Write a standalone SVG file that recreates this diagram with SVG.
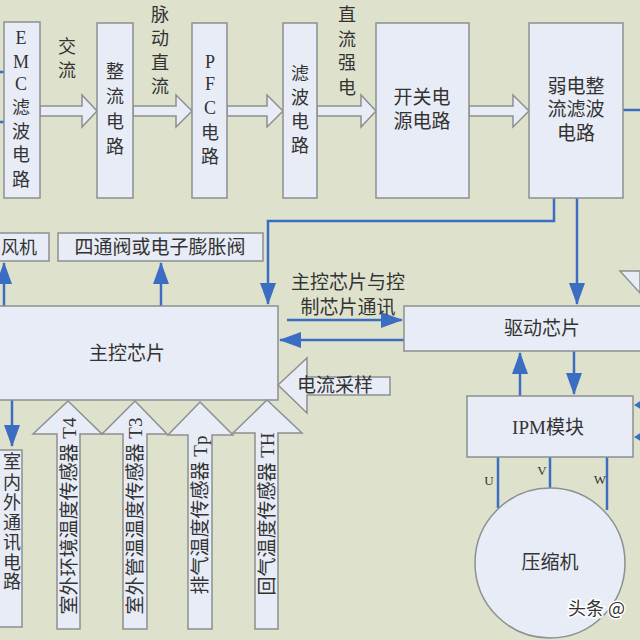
<svg xmlns="http://www.w3.org/2000/svg" width="640" height="640" viewBox="0 0 640 640">
<style>
.bx{fill:#e8ecf6;stroke:#8c9090;stroke-width:1.5}
.ba{fill:#e8ecf6;stroke:#8c9090;stroke-width:1.5}
.t{font-family:"Liberation Serif","Noto Sans CJK SC",serif;font-size:18px;fill:#333}
.c{text-anchor:middle}
.ln{fill:none;stroke:#3b6dc2;stroke-width:2.5}
.lbl{font-family:"Liberation Serif","Noto Sans CJK SC",serif;font-size:13px;fill:#333;text-anchor:middle}
</style>
<defs>
<marker id="ah" markerUnits="userSpaceOnUse" markerWidth="22" markerHeight="16" refX="21" refY="8" orient="auto">
<path d="M0,0 L22,8 L0,16 z" fill="#3b6dc2"/>
</marker>
</defs>
<rect x="0" y="0" width="640" height="640" fill="#dee2cd"/>

<g id="connectors">
<path class="ln" d="M554,198 V221 H268 V304" marker-end="url(#ah)"/>
<path class="ln" d="M577,198 V304" marker-end="url(#ah)"/>
<path class="ln" d="M4,306 V263" marker-end="url(#ah)"/>
<path class="ln" d="M161,306 V263" marker-end="url(#ah)"/>
<path class="ln" d="M287,320 H402" marker-end="url(#ah)"/>
<path class="ln" d="M404,340 H280" marker-end="url(#ah)"/>
<path class="ln" d="M520,396 V353" marker-end="url(#ah)"/>
<path class="ln" d="M574,351 V394" marker-end="url(#ah)"/>
<path class="ln" d="M12,400 V446" marker-end="url(#ah)"/>
<path class="ln" d="M498,457 V508"/>
<path class="ln" d="M550,457 V488"/>
<path class="ln" d="M607,457 V510"/>
<path class="ln" d="M623,110 H640"/>
<path class="ln" d="M0,72 H4 M0,122 H4"/>
<polygon points="634,405 642,400 642,410" fill="#3b6dc2"/>
<polygon points="634,437 642,432 642,442" fill="#3b6dc2"/>
</g>

<g id="flow-arrows">
<polygon class="ba" points="40,106 82,106 82,95 97,111 82,127 82,116 40,116"/>
<polygon class="ba" points="133,106 176,106 176,95 192,111 176,127 176,116 133,116"/>
<polygon class="ba" points="227,106 267,106 267,95 283,111 267,127 267,116 227,116"/>
<polygon class="ba" points="317,106 361,106 361,95 376,111 361,127 361,116 317,116"/>
<polygon class="ba" points="469,106 513,106 513,95 529,111 513,127 513,116 469,116"/>
<polygon class="ba" points="620,271 640,271 640,293"/>
</g>

<g id="flow-labels">
<text class="t c"><tspan x="67" y="53">交</tspan><tspan x="67" y="77">流</tspan></text>
<text class="t c"><tspan x="160" y="21">脉</tspan><tspan x="160" y="45">动</tspan><tspan x="160" y="69">直</tspan><tspan x="160" y="93">流</tspan></text>
<text class="t c"><tspan x="347" y="21">直</tspan><tspan x="347" y="46">流</tspan><tspan x="347" y="69">强</tspan><tspan x="347" y="94">电</tspan></text>
</g>

<g id="emc">
<rect class="bx" x="4" y="22" width="36" height="176"/>
<text class="t c"><tspan x="21" y="44">E</tspan><tspan x="21" y="68">M</tspan><tspan x="21" y="90">C</tspan><tspan x="21" y="114">滤</tspan><tspan x="21" y="138">波</tspan><tspan x="21" y="161">电</tspan><tspan x="21" y="186">路</tspan></text>
</g>
<g id="rectifier">
<rect class="bx" x="97" y="23" width="36" height="175"/>
<text class="t c"><tspan x="115" y="78">整</tspan><tspan x="115" y="103">流</tspan><tspan x="115" y="128">电</tspan><tspan x="115" y="153">路</tspan></text>
</g>
<g id="pfc">
<rect class="bx" x="192" y="23" width="35" height="175"/>
<text class="t c"><tspan x="210" y="68">P</tspan><tspan x="210" y="90">F</tspan><tspan x="210" y="114">C</tspan><tspan x="210" y="139">电</tspan><tspan x="210" y="163">路</tspan></text>
</g>
<g id="filter">
<rect class="bx" x="283" y="23" width="34" height="175"/>
<text class="t c"><tspan x="300" y="80">滤</tspan><tspan x="300" y="104">波</tspan><tspan x="300" y="128">电</tspan><tspan x="300" y="152">路</tspan></text>
</g>
<g id="smps">
<rect class="bx" x="376" y="23" width="93" height="175"/>
<text class="t c" style="font-size:19px"><tspan x="422" y="104">开关电</tspan><tspan x="422" y="128">源电路</tspan></text>
</g>
<g id="weak-rect">
<rect class="bx" x="529" y="23" width="94" height="175"/>
<text class="t c" style="font-size:19px"><tspan x="576" y="93">弱电整</tspan><tspan x="576" y="116">流滤波</tspan><tspan x="576" y="140">电路</tspan></text>
</g>

<g id="fan">
<rect class="bx" x="-2" y="233" width="51" height="28"/>
<text class="t" x="1" y="254">风机</text>
</g>
<g id="valve">
<rect class="bx" x="58" y="233" width="205" height="28"/>
<text class="t c" x="160" y="254" style="font-size:19px">四通阀或电子膨胀阀</text>
</g>

<g id="main-chip">
<rect class="bx" x="-2" y="306" width="280" height="94"/>
<text class="t c" x="127" y="360" style="font-size:19px">主控芯片</text>
</g>

<g id="comm-label">
<text class="t c" style="font-size:19px"><tspan x="348" y="289">主控芯片与控</tspan><tspan x="348" y="314">制芯片通讯</tspan></text>
</g>

<g id="driver-chip">
<rect class="bx" x="404" y="306" width="240" height="45"/>
<text class="t c" x="542" y="335" style="font-size:19px">驱动芯片</text>
</g>

<g id="current-sample">
<polygon class="ba" points="278,385 307,358 307,377 390,377 390,395 307,395 307,413"/>
<text class="t" x="297" y="392" style="font-size:19px">电流采样</text>
</g>

<g id="ipm">
<rect class="bx" x="467" y="396" width="166" height="61"/>
<text class="t c" x="548" y="434" style="font-size:19px">IPM模块</text>
</g>

<g id="uvw-labels">
<text class="lbl" x="489" y="485">U</text>
<text class="lbl" x="542" y="475">V</text>
<text class="lbl" x="600" y="484">W</text>
</g>

<g id="compressor">
<circle class="bx" cx="550" cy="563" r="75"/>
<text class="t c" x="550" y="569" style="font-size:19px">压缩机</text>
</g>

<g id="comm-circuit">
<rect class="bx" x="-2" y="450" width="24" height="177"/>
<text class="t c"><tspan x="12" y="468">室</tspan><tspan x="12" y="489">内</tspan><tspan x="12" y="509">外</tspan><tspan x="12" y="529">通</tspan><tspan x="12" y="549">讯</tspan><tspan x="12" y="569">电</tspan><tspan x="12" y="588">路</tspan></text>
</g>

<g id="sensor-t4">
<polygon class="ba" points="68,401 102,434 80,434 80,629 57,629 57,434 33,434"/>
<text class="t c" transform="translate(69,516) rotate(-90)" dominant-baseline="central" style="font-size:19px">室外环境温度传感器 T4</text>
</g>
<g id="sensor-t3">
<polygon class="ba" points="135,401 167,434 147,434 147,629 123,629 123,434 102,434"/>
<text class="t c" transform="translate(135,516) rotate(-90)" dominant-baseline="central" style="font-size:19px">室外管温温度传感器 T3</text>
</g>
<g id="sensor-tp">
<polygon class="ba" points="200,402 233,435 212,435 212,629 188,629 188,435 168,435"/>
<text class="t c" transform="translate(200,515) rotate(-90)" dominant-baseline="central" style="font-size:19px">排气温度传感器 Tp</text>
</g>
<g id="sensor-th">
<polygon class="ba" points="267,400 302,433 278,433 278,629 255,629 255,433 233,433"/>
<text class="t c" transform="translate(267,514) rotate(-90)" dominant-baseline="central" style="font-size:19px">回气温度传感器 TH</text>
</g>

<g id="watermark">
<text x="568" y="615" style="font-family:'Noto Sans CJK SC',sans-serif;font-size:18px;fill:#333;stroke:#fff;stroke-width:3;paint-order:stroke">头条 @</text>
</g>
</svg>
